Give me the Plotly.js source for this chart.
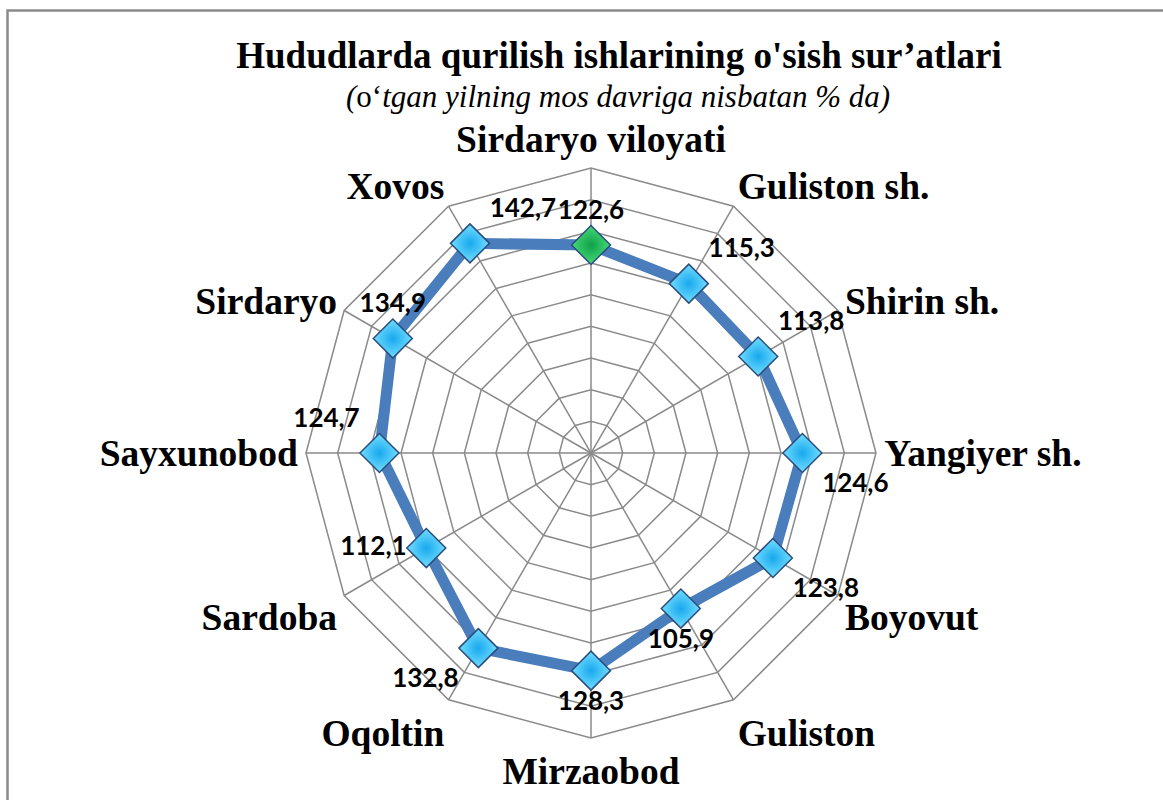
<!DOCTYPE html>
<html>
<head>
<meta charset="utf-8">
<script src="https://cdn.plot.ly/plotly-3.0.1.min.js"></script>
<style>html,body{margin:0;padding:0;background:#fff;}#chart{width:1163px;height:800px;}</style>
</head>
<body>
<div id="chart"></div>
<script>
// Data
const categories = ['Sirdaryo viloyati','Guliston sh.','Shirin sh.','Yangiyer sh.','Boyovut','Guliston','Mirzaobod','Oqoltin','Sardoba','Sayxunobod','Sirdaryo','Xovos'];
const values = [122.6, 115.3, 113.8, 124.6, 123.8, 105.9, 128.3, 132.8, 112.1, 124.7, 134.9, 142.7];
const titleText = 'Hududlarda qurilish ishlarining o\'sish sur’atlari';
const subtitleText = '<i>(</i>o‘<i>tgan yilning mos davriga nisbatan % da)</i>';

// Styling
const radialMax = 168;
const ringCount = 9;
const ringVals = [];
for (let k = 1; k < ringCount; k++) ringVals.push(radialMax * k / ringCount);
const labelPositions = ['top center','top right','top right','bottom right','bottom right','bottom center','bottom center','bottom left','middle left','top left','top center','top right'];
const markerColors = values.map((v, i) => i === 0 ? '#45DA78' : '#72DEFF');
const markerGrad = values.map((v, i) => i === 0 ? '#10A048' : '#18A8EE');
const gridColor = '#8a8a8a';

const lineTrace = {
  type: 'scatterpolar',
  mode: 'lines',
  r: values.concat([values[0]]),
  theta: categories.concat([categories[0]]),
  line: {color: '#4A7DBB', width: 11},
  hoverinfo: 'skip',
  showlegend: false
};
const markerTrace = {
  type: 'scatterpolar',
  mode: 'markers+text',
  r: values,
  theta: categories,
  marker: {
    symbol: 'diamond',
    size: 30,
    color: markerColors,
    gradient: {type: 'radial', color: markerGrad},
    line: {color: '#2A4D7E', width: 1.5}
  },
  texttemplate: '%{r:.1f}',
  textposition: labelPositions,
  textfont: {family: 'Lato, "Open Sans", sans-serif', size: 26, weight: 'bold', color: '#000'},
  cliponaxis: false,
  showlegend: false
};

const W = 1163, H = 800;
const cx = 591, cy = 453, R = 285;

const layout = {
  width: W, height: H,
  margin: {l: 0, r: 0, t: 0, b: 0},
  paper_bgcolor: '#fff',
  separators: ', ',
  showlegend: false,
  title: {
    text: '<b>' + titleText + '</b>',
    x: 619 / W, xanchor: 'center',
    y: 1 - 55 / H, yanchor: 'middle', yref: 'container',
    font: {family: '"Liberation Serif", "Times New Roman", serif', size: 37, color: '#000'}
  },
  annotations: [{
    text: subtitleText,
    xref: 'paper', yref: 'paper',
    x: 618 / W, y: 1 - 97 / H,
    xanchor: 'center', yanchor: 'middle',
    showarrow: false,
    font: {family: '"Liberation Serif", "Times New Roman", serif', size: 31, color: '#000'}
  }],
  shapes: [{
    type: 'rect', xref: 'paper', yref: 'paper',
    x0: 7.5 / W, x1: 1.05, y0: -0.05, y1: 1 - 10.5 / H,
    line: {color: '#8a8a8a', width: 2.5}
  }],
  polar: {
    domain: {x: [(cx - R) / W, (cx + R) / W], y: [(H - cy - R) / H, (H - cy + R) / H]},
    bgcolor: '#fff',
    gridshape: 'linear',
    radialaxis: {
      range: [0, radialMax],
      tickvals: ringVals,
      showticklabels: false,
      ticks: '',
      showline: false,
      gridcolor: gridColor,
      gridwidth: 1.5,
      layer: 'below traces'
    },
    angularaxis: {
      direction: 'clockwise',
      rotation: 90,
      type: 'category',
      ticks: '',
      showline: true,
      linecolor: gridColor,
      linewidth: 1.5,
      gridcolor: gridColor,
      gridwidth: 1.5,
      tickfont: {family: '"Liberation Serif", "Times New Roman", serif', size: 37.5, weight: 'bold', color: '#000'},
      layer: 'below traces'
    }
  }
};

Plotly.newPlot('chart', [lineTrace, markerTrace], layout, {displayModeBar: false, staticPlot: true});
</script>
</body>
</html>
